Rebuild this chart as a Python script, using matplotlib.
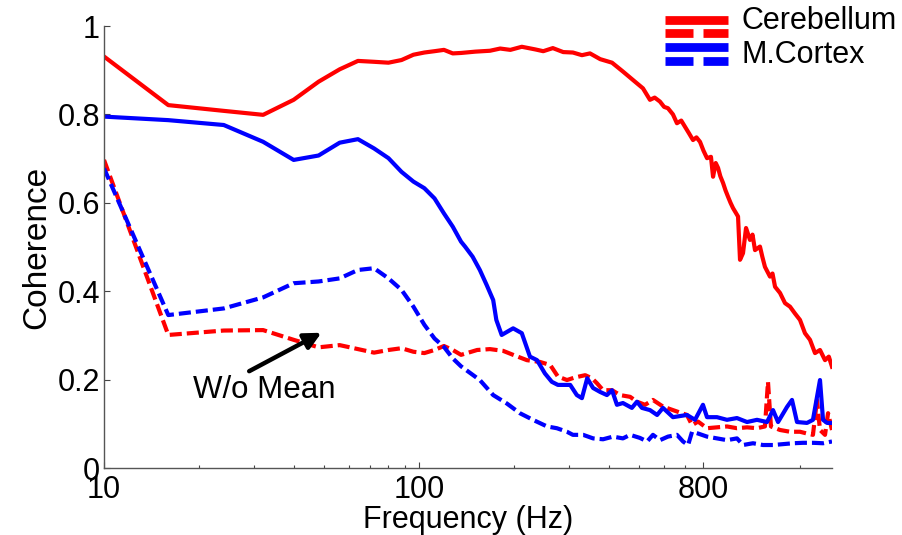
import matplotlib
matplotlib.use('Agg')
import matplotlib.pyplot as plt
from matplotlib.lines import Line2D
from matplotlib.legend_handler import HandlerBase
from matplotlib.ticker import FixedLocator, NullFormatter

plt.rcParams['font.family'] = ['Liberation Sans', 'DejaVu Sans']

# Cerebellum, with mean (solid red)
cb_freq = [10, 16, 24, 32, 40, 48, 56, 64, 72, 80, 88, 96, 104, 112, 120, 128, 136,
           151, 168, 181, 195, 212, 234, 248, 266, 287, 308, 329, 349, 376, 410, 444,
           485, 514, 541, 560, 582, 600, 617, 640, 659, 680, 699, 720, 741, 760, 780,
           800, 821, 845, 858, 875, 890, 905, 923, 940, 957, 975, 993, 1030, 1045, 1068,
           1092, 1124, 1145, 1166, 1209, 1230, 1254, 1301, 1325, 1350, 1400, 1452,
           1506, 1560, 1620, 1680, 1743, 1808, 1875, 1945, 2000, 2047]
cb_coh = [0.931, 0.821, 0.808, 0.799, 0.833, 0.874, 0.902, 0.921, 0.919, 0.917, 0.923,
          0.935, 0.940, 0.943, 0.946, 0.938, 0.939, 0.942, 0.944, 0.949, 0.946, 0.953,
          0.947, 0.943, 0.950, 0.941, 0.940, 0.934, 0.938, 0.925, 0.917, 0.897, 0.874,
          0.859, 0.833, 0.838, 0.829, 0.817, 0.814, 0.800, 0.780, 0.786, 0.772, 0.757,
          0.742, 0.748, 0.738, 0.718, 0.701, 0.704, 0.659, 0.690, 0.679, 0.660, 0.645,
          0.628, 0.614, 0.600, 0.588, 0.569, 0.471, 0.486, 0.543, 0.516, 0.528, 0.493,
          0.501, 0.478, 0.455, 0.433, 0.440, 0.410, 0.396, 0.373, 0.365, 0.350, 0.335,
          0.305, 0.290, 0.260, 0.267, 0.244, 0.252, 0.229]

# Cerebellum, without mean (dashed red)
cb0_freq = [10, 16, 24, 32, 40, 48, 56, 64, 72, 80, 88, 96, 104, 112, 120, 128, 136,
            153, 168, 185, 199, 220, 242, 261, 276, 295, 313, 337, 354, 367, 384, 410,
            435, 468, 492, 522, 553, 595, 640, 709, 736, 769, 821, 883, 950, 1022, 1100,
            1183, 1254, 1282, 1310, 1400, 1506, 1620, 1705, 1781, 1834, 1875, 1945,
            1989, 2047]
cb0_coh = [0.697, 0.301, 0.311, 0.312, 0.290, 0.273, 0.278, 0.269, 0.261, 0.267, 0.271,
           0.263, 0.260, 0.267, 0.276, 0.267, 0.256, 0.267, 0.269, 0.265, 0.256, 0.244,
           0.240, 0.233, 0.207, 0.199, 0.205, 0.210, 0.203, 0.192, 0.176, 0.176, 0.165,
           0.161, 0.150, 0.143, 0.154, 0.139, 0.131, 0.120, 0.097, 0.105, 0.090, 0.092,
           0.094, 0.090, 0.092, 0.090, 0.094, 0.195, 0.094, 0.086, 0.082, 0.082, 0.078,
           0.075, 0.154, 0.086, 0.075, 0.124, 0.086]

# M.Cortex, with mean (solid blue)
mc_freq = [10, 16, 24, 32, 40, 48, 56, 64, 72, 80, 88, 96, 104, 112, 120, 128, 136,
           140, 148, 156, 164, 172, 176, 183, 199, 212, 225, 237, 251, 264, 276, 302,
           317, 329, 342, 357, 376, 395, 410, 425, 444, 474, 492, 510, 541, 570, 595,
           640, 709, 752, 797, 821, 883, 950, 1022, 1100, 1183, 1273, 1330, 1380, 1473,
           1528, 1585, 1705, 1781, 1875, 1917, 1974, 2047]
mc_coh = [0.795, 0.787, 0.776, 0.738, 0.697, 0.707, 0.736, 0.744, 0.723, 0.701, 0.670,
          0.648, 0.633, 0.610, 0.576, 0.546, 0.512, 0.501, 0.478, 0.448, 0.414, 0.380,
          0.335, 0.301, 0.316, 0.305, 0.252, 0.244, 0.214, 0.195, 0.188, 0.188, 0.165,
          0.158, 0.203, 0.181, 0.172, 0.165, 0.176, 0.143, 0.147, 0.136, 0.150, 0.136,
          0.131, 0.120, 0.136, 0.115, 0.120, 0.109, 0.143, 0.115, 0.115, 0.109, 0.113,
          0.104, 0.109, 0.104, 0.131, 0.104, 0.138, 0.154, 0.104, 0.102, 0.109, 0.199,
          0.109, 0.102, 0.102]

# M.Cortex, without mean (dashed blue)
mc0_freq = [10, 16, 24, 32, 40, 48, 56, 64, 72, 80, 88, 96, 104, 112, 120, 128, 136,
            156, 172, 190, 209, 230, 255, 274, 295, 308, 332, 357, 384, 413, 444, 468,
            503, 530, 553, 582, 617, 659, 689, 715, 736, 769, 821, 883, 950, 1022, 1068,
            1149, 1236, 1330, 1431, 1539, 1656, 1781, 1917, 2047]
mc0_coh = [0.678, 0.346, 0.361, 0.386, 0.418, 0.422, 0.429, 0.448, 0.452, 0.429, 0.403,
           0.365, 0.324, 0.293, 0.274, 0.248, 0.230, 0.199, 0.165, 0.146, 0.124, 0.109,
           0.094, 0.090, 0.082, 0.075, 0.075, 0.067, 0.065, 0.071, 0.067, 0.075, 0.068,
           0.060, 0.075, 0.063, 0.071, 0.075, 0.060, 0.052, 0.082, 0.078, 0.071, 0.067,
           0.063, 0.067, 0.052, 0.056, 0.052, 0.052, 0.054, 0.056, 0.057, 0.057, 0.056,
           0.060]

x_major = [10, 100, 800]
x_major_labels = ['10', '100', '800']
x_minor = [20, 30, 40, 50, 60, 70, 80, 90, 200, 300, 400, 500, 600, 700, 1620]
y_ticks = [0, 0.2, 0.4, 0.6, 0.8, 1]
y_tick_labels = ['0', '0.2', '0.4', '0.6', '0.8', '1']

RED = '#ff0000'
BLUE = '#0000ff'
DASH = (0, (2.9, 1.2))


class SolidDashHandler(HandlerBase):
    # solid bar above, split dashed bar below (one legend row)
    def __init__(self, y_solid, y_dash, lw=6.3):
        super().__init__()
        self.y_solid = y_solid
        self.y_dash = y_dash
        self.lw = lw

    def create_artists(self, legend, orig_handle, xdescent, ydescent, width,
                       height, fontsize, trans):
        c = orig_handle.get_color()
        x0 = -xdescent
        x1 = x0 + width
        kw = dict(color=c, lw=self.lw, solid_capstyle='butt', transform=trans)
        top = Line2D([x0, x1], [self.y_solid] * 2, **kw)
        d1 = Line2D([x0, x0 + 0.44 * width], [self.y_dash] * 2, **kw)
        d2 = Line2D([x0 + 0.60 * width, x1], [self.y_dash] * 2, **kw)
        return [top, d1, d2]


fig = plt.figure(figsize=(9.02, 5.35), dpi=100)
ax = fig.add_axes([104 / 902, 1 - 468 / 535, (832 - 104) / 902, (468 - 26) / 535])

h_cb, = ax.plot(cb_freq, cb_coh, color=RED, lw=3)
ax.plot(cb0_freq, cb0_coh, color=RED, lw=3, linestyle=DASH)
h_mc, = ax.plot(mc_freq, mc_coh, color=BLUE, lw=3)
ax.plot(mc0_freq, mc0_coh, color=BLUE, lw=3, linestyle=DASH)

ax.set_xscale('log')
ax.set_xlim(10, 2047)
ax.set_ylim(0, 1)

ax.xaxis.set_major_locator(FixedLocator(x_major))
ax.set_xticklabels(x_major_labels)
ax.xaxis.set_minor_locator(FixedLocator(x_minor))
ax.xaxis.set_minor_formatter(NullFormatter())
ax.set_yticks(y_ticks)
ax.set_yticklabels(y_tick_labels)

ax.tick_params(axis='both', which='major', direction='in', length=4.5, width=0.8,
               color='#444444', labelsize=22, pad=3)
ax.tick_params(axis='x', which='minor', direction='in', length=2.5, width=0.8,
               color='#444444')
ax.tick_params(axis='x', which='major', pad=5)

for side in ['top', 'right']:
    ax.spines[side].set_visible(False)
for side in ['left', 'bottom']:
    ax.spines[side].set_color('#555555')
    ax.spines[side].set_linewidth(1.0)

ax.set_xlabel('Frequency (Hz)', fontsize=22, labelpad=0)
ax.set_ylabel('Coherence', fontsize=24, labelpad=4)

ax.annotate('', xy=(49, 0.306), xytext=(28.9, 0.219),
            arrowprops=dict(arrowstyle='-|>,head_length=1.0,head_width=0.5',
                            color='black', lw=3.2, shrinkA=0, shrinkB=0))
ax.text(32.3, 0.176, 'W/o Mean', fontsize=22.5, ha='center', va='center')

leg = ax.legend([h_cb, h_mc], ['Cerebellum', 'M.Cortex'],
                handler_map={h_cb: SolidDashHandler(6.7, -2.9),
                             h_mc: SolidDashHandler(11.5, 1.7)},
                loc='upper left', bbox_to_anchor=(665 / 902, 1 - 6 / 535),
                bbox_transform=fig.transFigure, frameon=False, fontsize=22,
                handlelength=2.05, handleheight=0.7, handletextpad=0.46,
                labelspacing=0.14, borderpad=0, borderaxespad=0)

fig.savefig('out.png', dpi=100)
